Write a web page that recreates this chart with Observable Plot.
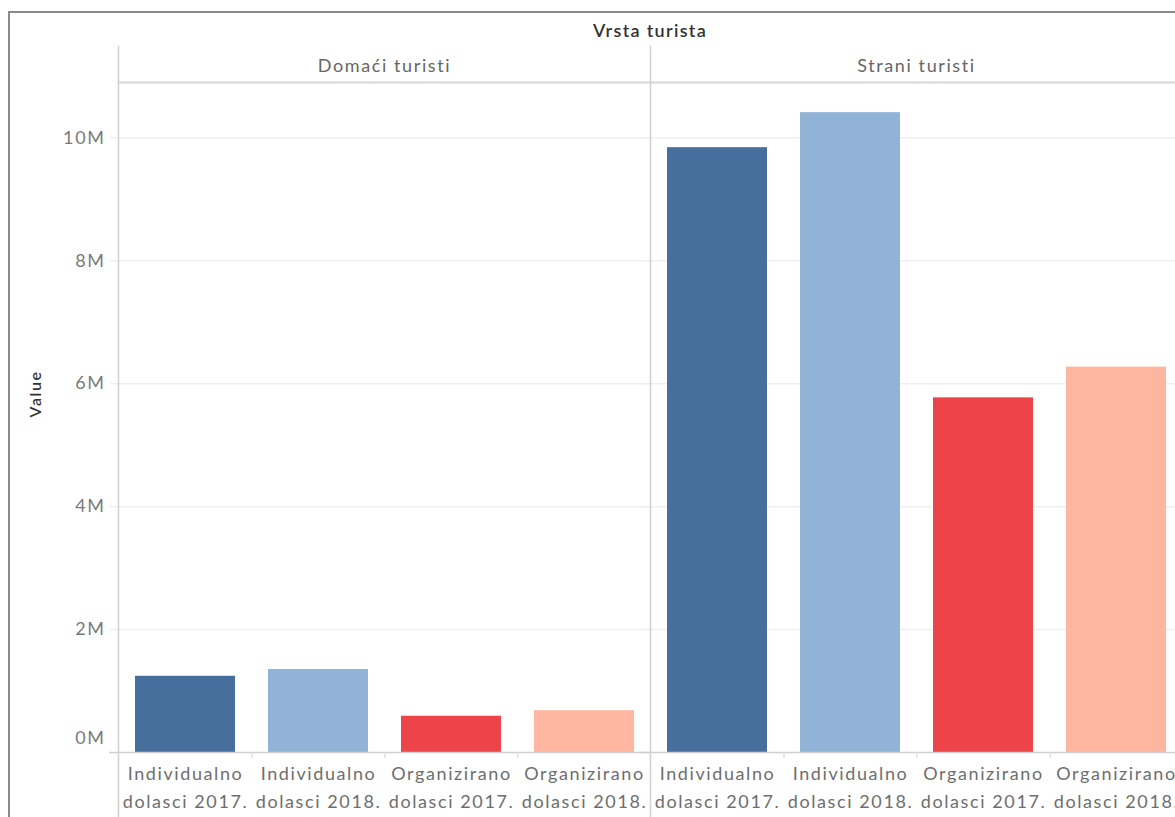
<!DOCTYPE html>
<html><head><meta charset="utf-8">
<script src="https://cdn.jsdelivr.net/npm/d3@7"></script>
<script src="https://cdn.jsdelivr.net/npm/@observablehq/plot@0.6"></script>
<style>
html,body{margin:0;padding:0;background:#fff;overflow:hidden;width:1175px;height:817px;position:relative}
#border{position:absolute;left:8px;top:11px;width:1300px;height:900px;border-top:2px solid #8a8a8a;border-left:2px solid #8a8a8a;box-sizing:border-box}
#title{position:absolute;left:350px;width:600px;top:19px;text-align:center;font-family:Lato,sans-serif;font-weight:600;font-size:18px;color:#333;letter-spacing:1.3px}
#chart{position:absolute;left:0;top:0;width:1182px}
#chart svg text{letter-spacing:1.6px}
</style>
</head><body>
<div id="border"></div>
<div id="title">Vrsta turista</div>
<div id="chart"></div>
<script>
const touristTypes = ["Domaći turisti", "Strani turisti"];
const categories = ["Individualno dolasci 2017.", "Individualno dolasci 2018.", "Organizirano dolasci 2017.", "Organizirano dolasci 2018."];
const domaciValues = [1.24e6, 1.35e6, 0.59e6, 0.68e6];
const straniValues = [9.84e6, 10.41e6, 5.77e6, 6.27e6];
const colors = ["#466f9d", "#91b3d7", "#ed444a", "#ffb6a1"];
const yTicks = [0, 2e6, 4e6, 6e6, 8e6, 10e6];

const data = [];
touristTypes.forEach((t, i) => categories.forEach((c, j) => data.push({type: t, cat: c, value: (i ? straniValues : domaciValues)[j]})));

const chart = Plot.plot({
  width: 1182, height: 817,
  marginLeft: 118, marginRight: 0, marginTop: 82, marginBottom: 65,
  style: {fontFamily: "Lato, sans-serif", background: "transparent", overflow: "visible", maxWidth: "none"},
  fx: {domain: touristTypes, padding: 0, label: null},
  x: {domain: categories, paddingInner: 0.25, paddingOuter: 0.125, label: null},
  y: {domain: [0, 10.9e6], label: null},
  color: {domain: categories, range: colors},
  marks: [
    Plot.ruleY(yTicks.slice(1), {stroke: "#efefef", strokeWidth: 1.5, insetLeft: -8}),
    Plot.barY(data, {fx: "type", x: "cat", y: "value", fill: "cat"}),
    Plot.ruleY([0], {stroke: "#cfcfcf", strokeWidth: 1.5, insetLeft: -9}),
    Plot.ruleX(categories.slice(1), {x: d => d, y1: 0, y2: 0, dx: -66.5, insetBottom: -6, stroke: "#e0e0e0", strokeWidth: 1.5}),
    Plot.frame({anchor: "top", stroke: "#d6d6d6", strokeWidth: 2}),
    Plot.frame({anchor: "left", stroke: "#d0d0d0", strokeWidth: 1.5, insetTop: -36, insetBottom: -65}),
    Plot.axisY(yTicks.slice(1), {tickFormat: d => d / 1e6 + "M", tickSize: 0, tickPadding: 13, label: null, fontSize: 18, fill: "#7a7a7a"}),
    Plot.axisY([0], {tickFormat: d => d / 1e6 + "M", tickSize: 0, tickPadding: 13, label: null, fontSize: 18, fill: "#7a7a7a", dy: -14}),
    Plot.text([touristTypes[0]], {fx: d => d, text: () => "Value", frameAnchor: "left", dx: -83, rotate: -90, fontSize: 16, fontWeight: 600, fill: "#333"}),
    Plot.axisX({tickFormat: d => d.replace(" dolasci", "\ndolasci"), tickSize: 0, tickPadding: 8, lineHeight: 1.55, fontSize: 18, fill: "#6e6e6e", label: null}),
    Plot.axisFx({anchor: "top", tickSize: 0, tickPadding: 11, fontSize: 18, fill: "#666", label: null})
  ]
});
document.getElementById("chart").appendChild(chart);
</script>
</body></html>
